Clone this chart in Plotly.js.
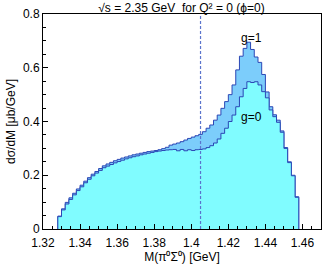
<!DOCTYPE html>
<html>
<head>
<meta charset="utf-8">
<script src="https://cdn.plot.ly/plotly-3.0.1.min.js"></script>
<style>html,body{margin:0;padding:0;background:#fff}#chart{width:327px;height:273px}</style>
</head>
<body>
<div id="chart"></div>
<script>
// Histogram bins (GeV): first edge and width
const binStart = 1.328;
const binWidth = 0.002;
// dσ/dM [μb/GeV] per bin, g=0
const g0 = [
  0.046, 0.071, 0.093, 0.110, 0.127, 0.143, 0.157, 0.172, 0.185, 0.198,
  0.208, 0.218, 0.228, 0.234, 0.240, 0.246, 0.251, 0.256, 0.261, 0.265,
  0.269, 0.272, 0.276, 0.279, 0.282, 0.285, 0.288, 0.290, 0.292, 0.294,
  0.295, 0.296, 0.291, 0.296, 0.291, 0.295, 0.292, 0.295, 0.296, 0.298,
  0.303, 0.310, 0.320, 0.335, 0.356, 0.375, 0.400, 0.424, 0.455, 0.492,
  0.523, 0.548, 0.545, 0.548, 0.536, 0.511, 0.488, 0.443, 0.418, 0.397,
  0.360, 0.300, 0.247, 0.198, 0.118
];
// dσ/dM [μb/GeV] per bin, g=1
const g1 = [
  0.048, 0.075, 0.099, 0.116, 0.133, 0.149, 0.163, 0.178, 0.191, 0.204,
  0.214, 0.225, 0.235, 0.242, 0.248, 0.254, 0.259, 0.264, 0.268, 0.272,
  0.276, 0.279, 0.282, 0.285, 0.288, 0.290, 0.292, 0.295, 0.299, 0.304,
  0.312, 0.316, 0.320, 0.325, 0.331, 0.337, 0.342, 0.347, 0.352, 0.362,
  0.375, 0.387, 0.405, 0.424, 0.449, 0.474, 0.500, 0.536, 0.592, 0.643,
  0.672, 0.695, 0.668, 0.640, 0.620, 0.575, 0.510, 0.455, 0.425, 0.405,
  0.365, 0.303, 0.250, 0.200, 0.120
];
const thresholdMass = [1.405];
const xTickVals = [1.32, 1.34, 1.36, 1.38, 1.40, 1.42, 1.44, 1.46];
const xTickText = ['1.32', '1.34', '1.36', '1.38', '1.4', '1.42', '1.44', '1.46'];
const yTickVals = [0, 0.2, 0.4, 0.6, 0.8];
const yTickText = ['0', '0.2', '0.4', '0.6', '0.8'];
const labels = [
  {text: 'g=1', x: 1.4325, y: 0.712},
  {text: 'g=0', x: 1.4325, y: 0.418}
];

function stepPoints(vals) {
  const xs = [binStart], ys = [0];
  for (let i = 0; i < vals.length; i++) {
    xs.push(binStart + i * binWidth);
    ys.push(vals[i]);
  }
  xs.push(binStart + vals.length * binWidth);
  ys.push(0);
  return {xs, ys};
}

const p1 = stepPoints(g1), p0 = stepPoints(g0);
const lineCol = '#2b47b5';
const traces = [
  {x: p1.xs, y: p1.ys, type: 'scatter', mode: 'lines', line: {shape: 'hv', color: lineCol, width: 1}, fill: 'tozeroy', fillcolor: '#7ccdfb', hoverinfo: 'skip'},
  {x: p0.xs, y: p0.ys, type: 'scatter', mode: 'lines', line: {shape: 'hv', color: lineCol, width: 1}, fill: 'tozeroy', fillcolor: '#80fcff', hoverinfo: 'skip'}
];

const font = {family: 'Liberation Sans, Arial, sans-serif', size: 12, color: '#000'};
const layout = {
  width: 327, height: 273,
  margin: {l: 43, r: 6, t: 14, b: 44},
  paper_bgcolor: '#fff', plot_bgcolor: '#fff',
  showlegend: false,
  font: font,
  title: {text: '√s = 2.35 GeV  for Q² = 0 (ϕ=0)', font: {family: font.family, size: 12, color: '#000'}, x: 0.555, xanchor: 'center', y: 0.988, yanchor: 'top'},
  xaxis: {
    range: [1.32, 1.47], tickvals: xTickVals, ticktext: xTickText,
    ticks: 'inside', ticklen: 5, tickwidth: 1, tickcolor: '#000',
    minor: {dtick: 0.005, tick0: 1.32, ticks: 'inside', ticklen: 3, tickcolor: '#000', showgrid: false},
    showline: true, linecolor: '#000', linewidth: 1, mirror: true,
    showgrid: false, zeroline: false,
    tickfont: font, ticklabelstandoff: 3,
    title: {text: 'M(π⁰Σ⁰) [GeV]', font: font, standoff: 0}
  },
  yaxis: {
    range: [0, 0.8], tickvals: yTickVals, ticktext: yTickText,
    ticks: 'inside', ticklen: 5, tickwidth: 1, tickcolor: '#000',
    minor: {dtick: 0.05, tick0: 0, ticks: 'inside', ticklen: 3, tickcolor: '#000', showgrid: false},
    showline: true, linecolor: '#000', linewidth: 1, mirror: true,
    showgrid: false, zeroline: false,
    tickfont: font,
    title: {text: 'dσ/dM [μb/GeV]', font: font, standoff: 4}
  },
  shapes: thresholdMass.map(m => ({type: 'line', xref: 'x', yref: 'y', x0: m, x1: m, y0: 0, y1: 0.8, line: {color: '#5b74cc', width: 1.2, dash: '3px,2px'}, layer: 'above'})),
  annotations: labels.map(l => ({text: l.text, x: l.x, y: l.y, xref: 'x', yref: 'y', showarrow: false, font: font}))
};

Plotly.newPlot('chart', traces, layout, {displayModeBar: false, staticPlot: true});
</script>
</body>
</html>
